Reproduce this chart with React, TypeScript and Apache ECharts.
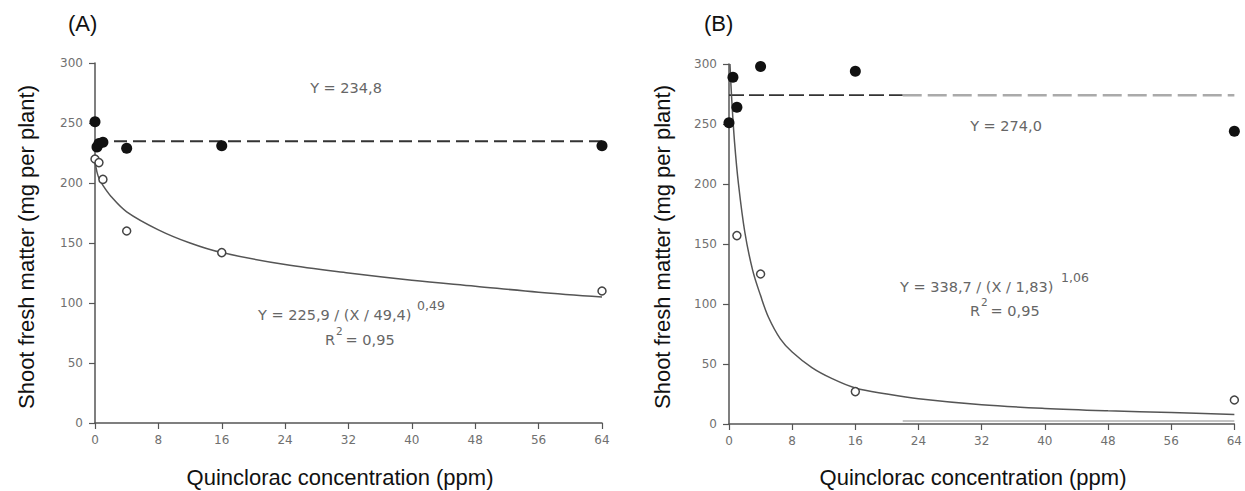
import React, { useEffect, useRef } from "react";
import * as echarts from "echarts";

// ---------- Data ----------
const xTickInterval = 8;
const xMax = 64;
const yMax = 300;
const yTickInterval = 50;

// Panel A
const doseA_filled = [0, 0.25, 0.5, 1, 4, 16, 64];
const shootA_filled = [251, 230, 233, 234, 229, 231, 231];
const doseA_open = [0, 0.5, 1, 4, 16, 64];
const shootA_open = [220, 217, 203, 160, 142, 110];
const curveA_x = [0, 0.25, 0.5, 1, 2, 4, 8, 12, 16, 24, 32, 40, 48, 56, 64];
const curveA_y = [218, 209, 204, 198, 189, 176, 161, 150, 142, 132, 125, 119, 114, 109, 105];
const meanA = 234.8;

// Panel B
const doseB_filled = [0, 0.5, 1, 4, 16, 64];
const shootB_filled = [251, 289, 264, 298, 294, 244];
const doseB_open = [1, 4, 16, 64];
const shootB_open = [157, 125, 27, 20];
const curveB_x = [0.12, 0.35, 0.7, 1.2, 2, 3, 4, 5, 6.5, 8, 10.5, 13, 16, 20, 24, 32, 40, 48, 56, 64];
const curveB_y = [300, 270, 235, 200, 160, 128, 107, 89, 71, 60, 47, 38, 30, 25, 21, 16, 13, 11, 9.5, 8];
const meanB = 274.0;
const meanB_splitX = 22;

// Texts
const panelLabels = ["(A)", "(B)"];
const yTitle = "Shoot fresh matter (mg per plant)";
const xTitle = "Quinclorac concentration (ppm)";
const meanTextA = "Y = 234,8";
const meanTextB = "Y = 274,0";
const eqA = "Y = 225,9 / (X / 49,4)";
const eqA_exp = "0,49";
const eqB = "Y = 338,7 / (X / 1,83)";
const eqB_exp = "1,06";
const r2Value = " = 0,95";

const pairs = (xs: number[], ys: number[]) => xs.map((x, i) => [x, ys[i]]);

const AXIS_COLOR = "#555";
const LABEL_FONT = "DejaVu Sans";
const TITLE_FONT = "Liberation Sans, Arial, sans-serif";

export default function App() {
  const ref = useRef<HTMLDivElement>(null);

  useEffect(() => {
    document.body.style.margin = "0";
    if (!ref.current) return;
    const chart = echarts.init(ref.current, undefined, { renderer: "svg" });

    const xAxisBase = (gridIndex: number) => ({
      type: "value" as const,
      gridIndex,
      min: 0,
      max: xMax,
      interval: xTickInterval,
      axisLine: { show: true, onZero: false, lineStyle: { color: AXIS_COLOR, width: 1.5 } },
      axisTick: { show: true, length: 6, lineStyle: { color: AXIS_COLOR, width: 1.2 } },
      axisLabel: { color: "#707070", fontSize: 12, fontFamily: LABEL_FONT, margin: 11 },
      splitLine: { show: false },
    });
    const yAxisBase = (gridIndex: number) => ({
      type: "value" as const,
      gridIndex,
      min: 0,
      max: yMax,
      interval: yTickInterval,
      axisLine: { show: true, lineStyle: { color: AXIS_COLOR, width: 1.5 } },
      axisTick: { show: true, length: 6, lineStyle: { color: AXIS_COLOR, width: 1.2 } },
      axisLabel: { color: "#707070", fontSize: 12, fontFamily: LABEL_FONT, margin: 12 },
      splitLine: { show: false },
    });

    const filledStyle = { color: "#111", opacity: 1 };
    const openStyle = { color: "#fff", borderColor: "#444", borderWidth: 1.5, opacity: 1 };

    const txt = (
      text: string,
      x: number,
      y: number,
      opts: { size?: number; family?: string; fill?: string; align?: string; rotation?: number } = {}
    ) => ({
      type: "text",
      x,
      y,
      rotation: opts.rotation ?? 0,
      style: {
        text,
        fill: opts.fill ?? "#666",
        fontSize: opts.size ?? 14.5,
        fontFamily: opts.family ?? LABEL_FONT,
        align: opts.align ?? "left",
        verticalAlign: "middle",
      },
    });

    chart.setOption({
      animation: false,
      backgroundColor: "#fff",
      grid: [
        { left: 95, top: 63, width: 507, height: 360 },
        { left: 729, top: 64, width: 509, height: 360 },
      ],
      xAxis: [xAxisBase(0), xAxisBase(1)],
      yAxis: [yAxisBase(0), yAxisBase(1)],
      series: [
        // ---- Panel A ----
        {
          type: "line",
          xAxisIndex: 0,
          yAxisIndex: 0,
          data: [
            [0, meanA],
            [xMax, meanA],
          ],
          symbol: "none",
          lineStyle: { color: "#333", width: 1.8, type: [13, 6] },
          z: 2,
        },
        {
          type: "line",
          xAxisIndex: 0,
          yAxisIndex: 0,
          data: pairs(curveA_x, curveA_y),
          symbol: "none",
          smooth: 0.35,
          lineStyle: { color: "#555", width: 1.5 },
          z: 2,
        },
        {
          type: "scatter",
          xAxisIndex: 0,
          yAxisIndex: 0,
          data: pairs(doseA_open, shootA_open),
          symbol: "circle",
          symbolSize: 8,
          itemStyle: openStyle,
          z: 3,
        },
        {
          type: "scatter",
          xAxisIndex: 0,
          yAxisIndex: 0,
          data: pairs(doseA_filled, shootA_filled),
          symbol: "circle",
          symbolSize: 11,
          itemStyle: filledStyle,
          z: 4,
        },
        // ---- Panel B ----
        {
          type: "line",
          xAxisIndex: 1,
          yAxisIndex: 1,
          data: [
            [0, meanB],
            [meanB_splitX, meanB],
          ],
          symbol: "none",
          lineStyle: { color: "#333", width: 1.8, type: [15, 5] },
          z: 2,
        },
        {
          type: "line",
          xAxisIndex: 1,
          yAxisIndex: 1,
          data: [
            [meanB_splitX, meanB],
            [xMax, meanB],
          ],
          symbol: "none",
          lineStyle: { color: "#aaa", width: 2.5, type: [19, 6] },
          z: 2,
        },
        {
          type: "line",
          xAxisIndex: 1,
          yAxisIndex: 1,
          data: [
            [meanB_splitX, 2.5],
            [xMax, 2.5],
          ],
          symbol: "none",
          lineStyle: { color: "#888", width: 1 },
          z: 1,
        },
        {
          type: "line",
          xAxisIndex: 1,
          yAxisIndex: 1,
          data: pairs(curveB_x, curveB_y),
          symbol: "none",
          smooth: 0.35,
          lineStyle: { color: "#555", width: 1.5 },
          z: 2,
        },
        {
          type: "scatter",
          xAxisIndex: 1,
          yAxisIndex: 1,
          data: pairs(doseB_open, shootB_open),
          symbol: "circle",
          symbolSize: 8,
          itemStyle: openStyle,
          z: 3,
        },
        {
          type: "scatter",
          xAxisIndex: 1,
          yAxisIndex: 1,
          data: pairs(doseB_filled, shootB_filled),
          symbol: "circle",
          symbolSize: 11,
          itemStyle: filledStyle,
          z: 4,
        },
      ],
      graphic: [
        txt(panelLabels[0], 68, 23, { size: 22, family: TITLE_FONT, fill: "#111" }),
        txt(panelLabels[1], 704, 23, { size: 22, family: TITLE_FONT, fill: "#111" }),
        txt(yTitle, 26, 247, { size: 22, family: TITLE_FONT, fill: "#111", align: "center", rotation: Math.PI / 2 }),
        txt(yTitle, 662, 247, { size: 22, family: TITLE_FONT, fill: "#111", align: "center", rotation: Math.PI / 2 }),
        txt(xTitle, 340, 477, { size: 22, family: TITLE_FONT, fill: "#111", align: "center" }),
        txt(xTitle, 973, 477, { size: 22, family: TITLE_FONT, fill: "#111", align: "center" }),
        // Panel A annotations
        txt(meanTextA, 346, 88, { align: "center" }),
        txt(eqA, 258, 315),
        txt(eqA_exp, 417, 305, { size: 12.5 }),
        txt("R", 325, 340),
        txt("2", 336, 331, { size: 10.5 }),
        txt(r2Value, 341, 340),
        // Panel B annotations
        txt(meanTextB, 1006, 126, { align: "center" }),
        txt(eqB, 900, 287),
        txt(eqB_exp, 1061, 277, { size: 12.5 }),
        txt("R", 970, 311),
        txt("2", 981, 302, { size: 10.5 }),
        txt(r2Value, 986, 311),
      ],
    });

    return () => chart.dispose();
  }, []);

  return <div ref={ref} style={{ width: 1245, height: 491 }} />;
}
